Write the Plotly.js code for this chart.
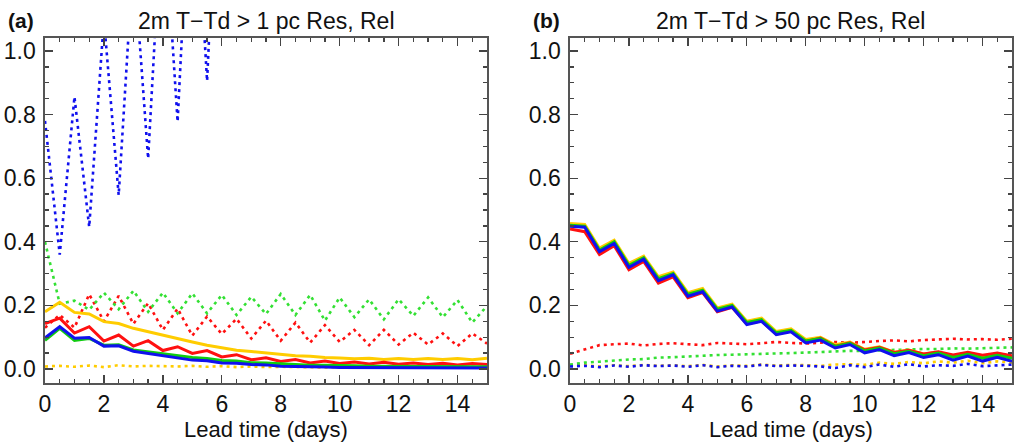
<!DOCTYPE html>
<html>
<head>
<meta charset="utf-8">
<script src="https://cdn.plot.ly/plotly-3.0.1.min.js"></script>
<style>html,body{margin:0;padding:0;background:#fff;}#chart{width:1020px;height:442px;}</style>
</head>
<body>
<div id="chart"></div>
<script>
// Lead time (days)
const leadDays = [0,0.5,1,1.5,2,2.5,3,3.5,4,4.5,5,5.5,6,6.5,7,7.5,8,8.5,9,9.5,10,10.5,11,11.5,12,12.5,13,13.5,14,14.5,15];

// Panel (a): 2m T-Td > 1 pc
const aYellowRes = [0.18,0.21,0.178,0.173,0.149,0.143,0.128,0.117,0.107,0.094,0.085,0.075,0.066,0.059,0.055,0.050,0.046,0.042,0.040,0.036,0.035,0.032,0.034,0.030,0.033,0.030,0.033,0.030,0.033,0.029,0.034];
const aRedRes    = [0.143,0.16,0.113,0.133,0.088,0.107,0.072,0.089,0.058,0.07,0.049,0.058,0.038,0.045,0.029,0.035,0.024,0.030,0.019,0.025,0.017,0.022,0.016,0.021,0.015,0.019,0.014,0.018,0.013,0.017,0.014];
const aGreenRes  = [0.09,0.128,0.09,0.096,0.075,0.076,0.06,0.054,0.046,0.042,0.036,0.033,0.027,0.025,0.02,0.019,0.016,0.015,0.012,0.012,0.01,0.01,0.009,0.009,0.008,0.008,0.008,0.007,0.007,0.007,0.007];
const aBlueRes   = [0.098,0.133,0.097,0.099,0.072,0.073,0.056,0.049,0.04,0.034,0.028,0.026,0.019,0.018,0.014,0.013,0.009,0.008,0.006,0.006,0.005,0.005,0.004,0.004,0.004,0.004,0.004,0.004,0.003,0.003,0.003];
const aYellowRel = [0.008,0.010,0.007,0.011,0.006,0.012,0.008,0.010,0.009,0.008,0.010,0.007,0.009,0.006,0.008,0.006,0.007,0.006,0.007,0.005,0.006,0.005,0.006,0.005,0.006,0.005,0.006,0.005,0.006,0.005,0.006];
const aRedRel    = [0.13,0.17,0.13,0.235,0.15,0.23,0.142,0.207,0.123,0.19,0.105,0.165,0.11,0.158,0.096,0.152,0.089,0.146,0.083,0.138,0.085,0.123,0.075,0.123,0.077,0.114,0.077,0.112,0.072,0.112,0.08];
const aGreenRel  = [0.40,0.205,0.215,0.186,0.24,0.188,0.246,0.18,0.24,0.175,0.238,0.175,0.233,0.17,0.227,0.173,0.236,0.17,0.233,0.152,0.225,0.163,0.219,0.156,0.219,0.167,0.225,0.163,0.217,0.146,0.198];
const aBlueRel   = [0.78,0.36,0.856,0.447,1.1,0.547,1.3,0.662,1.5,0.778,1.7,0.906,1.9,1.15,2.1,1.25,2.2,1.35,2.3,1.4,2.4,1.5,2.5,1.55,2.6,1.6,2.6,1.65,2.7,1.7,2.7];

// Panel (b): 2m T-Td > 50 pc
const bYellowRes = [0.458,0.455,0.38,0.405,0.332,0.355,0.29,0.305,0.24,0.253,0.192,0.204,0.15,0.16,0.118,0.126,0.093,0.1,0.076,0.085,0.062,0.07,0.053,0.06,0.047,0.053,0.042,0.05,0.04,0.046,0.038];
const bRedRes    = [0.44,0.432,0.36,0.388,0.312,0.338,0.27,0.29,0.224,0.24,0.18,0.194,0.142,0.152,0.11,0.12,0.087,0.097,0.072,0.082,0.06,0.068,0.052,0.059,0.047,0.054,0.044,0.053,0.043,0.05,0.042];
const bGreenRes  = [0.452,0.449,0.374,0.4,0.326,0.35,0.284,0.3,0.235,0.248,0.188,0.2,0.146,0.155,0.114,0.122,0.088,0.096,0.071,0.081,0.057,0.066,0.048,0.056,0.042,0.05,0.036,0.046,0.034,0.043,0.034];
const bBlueRes   = [0.449,0.446,0.369,0.395,0.32,0.345,0.278,0.296,0.229,0.243,0.182,0.195,0.14,0.15,0.108,0.117,0.082,0.091,0.066,0.077,0.051,0.061,0.042,0.052,0.036,0.045,0.028,0.041,0.025,0.037,0.024];
const bYellowRel = [0.01,0.012,0.008,0.012,0.009,0.013,0.01,0.012,0.009,0.013,0.008,0.012,0.01,0.014,0.011,0.013,0.012,0.01,0.014,0.015,0.013,0.02,0.016,0.022,0.018,0.024,0.02,0.026,0.018,0.024,0.02];
const bRedRel    = [0.048,0.062,0.075,0.078,0.08,0.074,0.079,0.081,0.077,0.075,0.082,0.08,0.078,0.081,0.085,0.082,0.08,0.083,0.085,0.082,0.086,0.088,0.09,0.087,0.091,0.092,0.095,0.093,0.094,0.092,0.095];
const bGreenRel  = [0.014,0.02,0.023,0.027,0.03,0.031,0.036,0.037,0.04,0.041,0.044,0.045,0.047,0.048,0.049,0.05,0.052,0.053,0.055,0.057,0.057,0.059,0.061,0.061,0.063,0.063,0.065,0.064,0.066,0.066,0.068];
const bBlueRel   = [0.008,0.01,0.006,0.011,0.007,0.012,0.009,0.011,0.007,0.012,0.006,0.01,0.008,0.013,0.009,0.011,0.01,0.008,0.003,0.012,0.006,0.014,0.007,0.015,0.008,0.012,0.01,0.016,0.009,0.012,0.014];

const panelTitles = ["2m T\u2212Td > 1 pc Res, Rel", "2m T\u2212Td > 50 pc Res, Rel"];
const panelLetters = ["(a)", "(b)"];
const xTitle = "Lead time (days)";

const C = {yellow:"#ffcc00", red:"#ff1010", green:"#10cc10", blue:"#1010ee", greenDot:"#33e033"};
const DOT = "3px,4px";

function solid(y, color, ax) {
  return {x: leadDays, y: y, type: "scatter", mode: "lines", xaxis: ax[0], yaxis: ax[1],
    line: {color: color, width: 3}, hoverinfo: "skip", showlegend: false};
}
function dotted(y, color, ax) {
  return {x: leadDays, y: y, type: "scatter", mode: "lines", xaxis: ax[0], yaxis: ax[1],
    line: {color: color, width: 2.6, dash: DOT}, hoverinfo: "skip", showlegend: false};
}

const A = ["x", "y"], B = ["x2", "y2"];
const data = [
  dotted(aYellowRel, C.yellow, A), dotted(aRedRel, C.red, A), dotted(aGreenRel, C.greenDot, A), dotted(aBlueRel, C.blue, A),
  solid(aYellowRes, C.yellow, A), solid(aRedRes, C.red, A), solid(aGreenRes, C.green, A), solid(aBlueRes, C.blue, A),
  dotted(bYellowRel, C.yellow, B), dotted(bRedRel, C.red, B), dotted(bGreenRel, C.greenDot, B), dotted(bBlueRel, C.blue, B),
  solid(bYellowRes, C.yellow, B), solid(bRedRes, C.red, B), solid(bGreenRes, C.green, B), solid(bBlueRes, C.blue, B)
];

const FONT = "Liberation Sans, Arial, Helvetica, sans-serif";
function xax(domain, anchor) {
  return {domain: domain, anchor: anchor, range: [0, 15], tick0: 0, dtick: 2,
    ticks: "inside", ticklen: 8, tickwidth: 1.3, tickcolor: "#444",
    minor: {ticks: "inside", dtick: 0.5, tick0: 0, ticklen: 4, tickwidth: 1.3, tickcolor: "#444", showgrid: false},
    showline: true, linecolor: "#555", linewidth: 1.6, mirror: "allticks",
    showgrid: false, zeroline: false, fixedrange: true,
    tickfont: {family: FONT, size: 23, color: "#111"}};
}
function yax(anchor) {
  return {domain: [0, 1], anchor: anchor, range: [-0.044, 1.041], tick0: 0, dtick: 0.2, tickformat: ".1f",
    ticks: "inside", ticklen: 8, tickwidth: 1.3, tickcolor: "#444",
    minor: {ticks: "inside", dtick: 0.05, tick0: 0, ticklen: 4, tickwidth: 1.3, tickcolor: "#444", showgrid: false},
    showline: true, linecolor: "#555", linewidth: 1.6, mirror: "allticks",
    showgrid: false, zeroline: false, fixedrange: true, ticklabelstandoff: 3,
    tickfont: {family: FONT, size: 23, color: "#111"}};
}

const L = 45, R = 8, T = 38, Bm = 59, W = 1020, H = 442;
const pw = W - L - R, ph = H - T - Bm;
const dA = [0, (487 - L) / pw], dB = [(570 - L) / pw, 1];
function px(p) { return (p - L) / pw; }
function py(p) { return (H - Bm - p) / ph; }

const annotations = [];
[dA, dB].forEach(function (d, i) {
  const cx = (d[0] + d[1]) / 2;
  annotations.push({xref: "paper", yref: "paper", x: cx, y: py(21), xanchor: "center", yanchor: "middle",
    text: panelTitles[i], showarrow: false, font: {family: FONT, size: 23, color: "#111"}});
  annotations.push({xref: "paper", yref: "paper", x: cx, y: py(429), xanchor: "center", yanchor: "middle",
    text: xTitle, showarrow: false, font: {family: FONT, size: 22, color: "#111"}});
});
annotations.push({xref: "paper", yref: "paper", x: px(21), y: py(20), xanchor: "center", yanchor: "middle",
  text: "<b>" + panelLetters[0] + "</b>", showarrow: false, font: {family: FONT, size: 21, color: "#111"}});
annotations.push({xref: "paper", yref: "paper", x: px(546), y: py(20), xanchor: "center", yanchor: "middle",
  text: "<b>" + panelLetters[1] + "</b>", showarrow: false, font: {family: FONT, size: 21, color: "#111"}});

const layout = {
  width: W, height: H,
  margin: {l: L, r: R, t: T, b: Bm},
  paper_bgcolor: "#fff", plot_bgcolor: "#fff",
  showlegend: false,
  xaxis: xax(dA, "y"), yaxis: yax("x"),
  xaxis2: xax(dB, "y2"), yaxis2: yax("x2"),
  annotations: annotations
};

Plotly.newPlot("chart", data, layout, {staticPlot: true, displayModeBar: false});
</script>
</body>
</html>
